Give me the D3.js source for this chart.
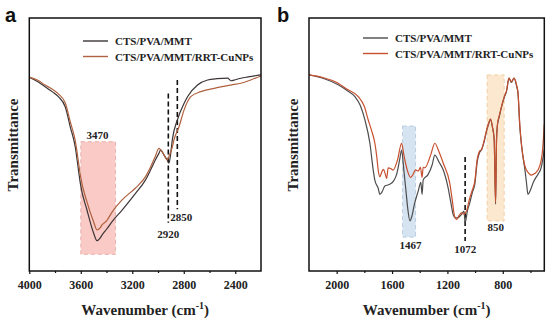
<!DOCTYPE html>
<html>
<head>
<meta charset="utf-8">
<script src="https://cdn.jsdelivr.net/npm/d3@7"></script>
<style>
  body { margin: 0; background: #fff; }
  text { font-family: "Liberation Serif", "Times New Roman", serif; font-weight: bold; }
</style>
</head>
<body>
<svg id="chart" width="550" height="322"></svg>
<script>
// ---- panel a: 4000-2200 cm-1 ----
var aBaseWn = [4000, 3930, 3877, 3820, 3774, 3721, 3682, 3643, 3618, 3604, 3552, 3500, 3474, 3450, 3435, 3400, 3357, 3279, 3175, 3097, 3058, 3020, 2993, 2980, 2950, 2928, 2915, 2900, 2889, 2850, 2800, 2771, 2693, 2615, 2540, 2459, 2434, 2400, 2356, 2300, 2200];
var aBaseT  = [76.6, 74.7, 72.8, 70.8, 68.9, 64.9, 57.0, 49.1, 39.9, 34.7, 24.1, 14.9, 12.0, 13.0, 14.2, 16.5, 19.5, 24.1, 30.7, 36.0, 39.9, 44.0, 46.5, 47.8, 45.5, 43.9, 42.6, 47.0, 51.8, 59.7, 66.0, 68.9, 73.5, 75.5, 76.0, 76.2, 75.2, 75.6, 76.2, 76.7, 77.5];
var aCuWn = [4000, 3930, 3877, 3820, 3774, 3721, 3682, 3643, 3618, 3604, 3552, 3500, 3474, 3450, 3435, 3400, 3357, 3279, 3175, 3097, 3058, 3020, 2993, 2960, 2928, 2910, 2889, 2876, 2837, 2798, 2746, 2668, 2564, 2434, 2356, 2280, 2200];
var aCuT  = [76.6, 75.3, 73.5, 71.8, 70.0, 66.5, 59.0, 51.5, 43.0, 38.0, 27.3, 19.4, 16.2, 17.0, 18.2, 19.8, 23.3, 28.1, 32.8, 37.3, 41.1, 45.5, 48.5, 46.5, 43.9, 46.0, 49.0, 51.8, 57.0, 63.6, 68.9, 70.9, 72.2, 73.5, 74.2, 75.5, 77.1];
var aTicks = [4000, 3600, 3200, 2800, 2400];
var aMinor = [3800, 3400, 3000, 2600];

// ---- panel b: 2200-500 cm-1 ----
var bBaseWn = [2200, 2100, 1989, 1930, 1868, 1830, 1796, 1760, 1736, 1724, 1700, 1688, 1670, 1652, 1630, 1616, 1590, 1567, 1545, 1531, 1515, 1500, 1485, 1471, 1455, 1440, 1411, 1392, 1383, 1375, 1339, 1310, 1291, 1260, 1230, 1195, 1175, 1159, 1140, 1123, 1098, 1080, 1072, 1055, 1038, 1020, 1002, 985, 966, 954, 935, 918, 900, 889, 875, 862, 852, 845, 838, 825, 809, 790, 773, 755, 738, 719, 700, 690, 677, 665, 654, 640, 629, 618, 600, 580, 560, 546, 522, 500];
var bBaseT  = [77.5, 76.2, 73.6, 71.5, 68.9, 65.5, 59.7, 50.5, 39.9, 35.8, 32.7, 30.3, 31.5, 33.6, 34.0, 34.3, 35.5, 38.2, 44.0, 47.8, 40.0, 32.0, 24.0, 19.8, 22.0, 26.0, 31.6, 35.0, 30.3, 36.0, 38.2, 42.0, 45.8, 43.0, 39.9, 32.9, 27.0, 22.4, 21.0, 21.1, 22.4, 23.7, 19.1, 24.0, 27.0, 31.0, 34.3, 43.0, 47.0, 47.8, 51.0, 55.1, 58.5, 60.0, 57.0, 52.0, 26.4, 52.0, 58.0, 61.0, 64.9, 68.5, 71.0, 76.2, 74.5, 76.2, 73.0, 70.2, 57.0, 50.0, 45.2, 40.0, 35.0, 30.3, 32.0, 35.0, 37.0, 38.2, 41.0, 48.0];
var bCuWn = [2200, 2100, 1989, 1930, 1844, 1800, 1772, 1745, 1724, 1710, 1700, 1688, 1675, 1662, 1652, 1639, 1628, 1610, 1592, 1560, 1531, 1515, 1500, 1485, 1467, 1450, 1430, 1411, 1395, 1383, 1375, 1363, 1320, 1291, 1260, 1230, 1183, 1165, 1146, 1134, 1115, 1098, 1080, 1062, 1038, 1020, 1002, 985, 966, 954, 935, 918, 900, 889, 875, 862, 852, 845, 838, 825, 809, 790, 773, 755, 738, 719, 700, 690, 677, 665, 654, 640, 629, 610, 594, 570, 546, 522, 512, 500];
var bCuT  = [77.5, 76.5, 74.2, 72.0, 68.9, 65.0, 59.7, 55.0, 50.5, 45.0, 39.9, 37.3, 39.0, 40.2, 38.9, 36.6, 40.8, 40.5, 39.9, 44.0, 50.5, 46.0, 42.0, 39.0, 37.0, 38.0, 40.0, 39.5, 41.0, 37.0, 41.0, 40.8, 46.0, 50.5, 47.0, 42.6, 34.7, 28.0, 21.1, 20.4, 22.0, 23.0, 22.5, 23.7, 29.0, 32.0, 35.5, 44.0, 47.5, 48.0, 51.5, 55.5, 58.8, 60.0, 57.0, 52.0, 27.0, 52.0, 58.0, 61.5, 65.0, 68.8, 71.3, 76.2, 74.8, 76.2, 73.5, 70.5, 58.0, 50.0, 45.2, 41.5, 39.9, 38.5, 37.9, 38.5, 39.9, 43.9, 48.0, 58.0];
var bTicks = [2000, 1600, 1200, 800];
var bMinor = [1800, 1400, 1000, 600];

var seriesNames = ["CTS/PVA/MMT", "CTS/PVA/MMT/RRT-CuNPs"];

var svg = d3.select("svg#chart");

function drawPanel(p) {
    var x = d3.scaleLinear().domain(p.domain).range([p.left, p.right]);
    var y = d3.scaleLinear().domain([0, 100]).range([271, 18]);
    var g = svg.append("g");

    // shaded bands
    p.bands.forEach(function(b) {
        g.append("rect")
            .attr("x", x(b.from))
            .attr("y", y(b.top))
            .attr("width", x(b.to) - x(b.from))
            .attr("height", y(b.bottom) - y(b.top))
            .style("fill", b.fill)
            .style("stroke", b.stroke)
            .style("stroke-width", 1)
            .style("stroke-dasharray", "4,3");
        g.append("text")
            .attr("x", x(b.label.wn))
            .attr("y", y(b.label.t))
            .style("text-anchor", "middle")
            .style("font-size", "11px")
            .style("fill", "#222")
            .text(b.label.text);
    });

    // dashed marker lines
    p.marks.forEach(function(m) {
        g.append("line")
            .attr("x1", x(m.wn)).attr("x2", x(m.wn))
            .attr("y1", y(m.top)).attr("y2", y(m.bottom))
            .style("stroke", "#111")
            .style("stroke-width", 1.6)
            .style("stroke-dasharray", "5,3");
        g.append("text")
            .attr("x", x(m.label.wn) + (m.label.dx || 0))
            .attr("y", y(m.label.t))
            .style("text-anchor", m.label.anchor || "middle")
            .style("font-size", "11px")
            .style("fill", "#222")
            .text(m.label.text);
    });

    var line = d3.line()
        .x(function(d) { return x(d[0]); })
        .y(function(d) { return y(d[1]); })
        .curve(d3.curveMonotoneX);

    p.series.forEach(function(s, i) {
        g.append("path")
            .datum(d3.zip(s.wn, s.t))
            .attr("d", line)
            .style("fill", "none")
            .style("stroke", s.color)
            .style("stroke-width", 1.2);
    });

    // frame
    g.append("rect")
        .attr("x", p.left).attr("y", 18)
        .attr("width", p.right - p.left).attr("height", 253)
        .style("fill", "none")
        .style("stroke", "#111")
        .style("stroke-width", 1.5);

    var axis = g.append("g")
        .attr("transform", "translate(0,271)")
        .call(d3.axisBottom(x).tickValues(p.ticks).tickSize(3).tickSizeOuter(0).tickPadding(6).tickFormat(d3.format("d")));
    axis.select(".domain").remove();
    axis.selectAll("text").style("font-size", "12px").style("font-family", "Liberation Serif").style("font-weight", "bold").style("fill", "#222");
    axis.selectAll("line").style("stroke", "#111").style("stroke-width", 1.2);

    var minor = g.append("g")
        .attr("transform", "translate(0,271)")
        .call(d3.axisBottom(x).tickValues(p.minor).tickSize(2).tickSizeOuter(0).tickFormat(""));
    minor.select(".domain").remove();
    minor.selectAll("line").style("stroke", "#111").style("stroke-width", 1.2);

    // axis titles
    var cx = (p.left + p.right) / 2;
    var title = g.append("text")
        .attr("x", cx).attr("y", 315)
        .style("text-anchor", "middle")
        .style("font-size", "15px")
        .style("fill", "#222");
    title.append("tspan").text("Wavenumber (cm");
    title.append("tspan").attr("dy", -6).style("font-size", "10px").text("-1");
    title.append("tspan").attr("dy", 6).text(")");

    g.append("text")
        .attr("transform", "translate(" + (p.left - 11) + ",145) rotate(-90)")
        .style("text-anchor", "middle")
        .style("font-size", "15px")
        .style("fill", "#222")
        .text("Transmittance");

    // legend
    p.series.forEach(function(s, i) {
        var ly = p.legendY + i * 15.5;
        g.append("line")
            .attr("x1", p.legendX).attr("x2", p.legendX + 25)
            .attr("y1", ly).attr("y2", ly)
            .style("stroke", s.color)
            .style("stroke-width", 1.4);
        g.append("text")
            .attr("x", p.legendX + 32).attr("y", ly + 4)
            .style("font-size", "11px")
            .style("fill", "#222")
            .text(seriesNames[i]);
    });

    // panel letter
    svg.append("text")
        .attr("x", p.letterX).attr("y", 21.5)
        .style("font-family", "Liberation Sans, Arial, sans-serif")
        .style("font-size", "20px")
        .style("fill", "#111")
        .text(p.letter);
}

drawPanel({
    letter: "a", letterX: 5,
    left: 29.3, right: 261, domain: [4000, 2200],
    ticks: aTicks, minor: aMinor,
    legendX: 83, legendY: 41,
    series: [
        { wn: aBaseWn, t: aBaseT, color: "#3d3535" },
        { wn: aCuWn, t: aCuT, color: "#b0613f" }
    ],
    bands: [
        { from: 3600, to: 3330, top: 51.1, bottom: 6.6, fill: "#f9cac6", stroke: "#e9b3ae",
          label: { wn: 3470, t: 52.2, text: "3470" } }
    ],
    marks: [
        { wn: 2920, top: 70.2, bottom: 19.1, label: { wn: 2920, t: 13.2, text: "2920" } },
        { wn: 2850, top: 75.5, bottom: 24.4, label: { wn: 2920, t: 19.7, text: "2850", anchor: "start", dx: 2 } }
    ]
});

drawPanel({
    letter: "b", letterX: 277,
    left: 309, right: 544.3, domain: [2200, 500],
    ticks: bTicks, minor: bMinor,
    legendX: 363, legendY: 38,
    series: [
        { wn: bBaseWn, t: bBaseT, color: "#4d4d4d" },
        { wn: bCuWn, t: bCuT, color: "#c8502f" }
    ],
    bands: [
        { from: 1524, to: 1430, top: 57.3, bottom: 13.4, fill: "#d6e4f1", stroke: "#b9cde0",
          label: { wn: 1467, t: 8.7, text: "1467" } },
        { from: 913, to: 790, top: 77.5, bottom: 19.8, fill: "#fce7cf", stroke: "#f0cfa6",
          label: { wn: 850, t: 15.8, text: "850" } }
    ],
    marks: [
        { wn: 1072, top: 45.1, bottom: 11.9, label: { wn: 1072, t: 7.1, text: "1072" } }
    ]
});
</script>
</body>
</html>
